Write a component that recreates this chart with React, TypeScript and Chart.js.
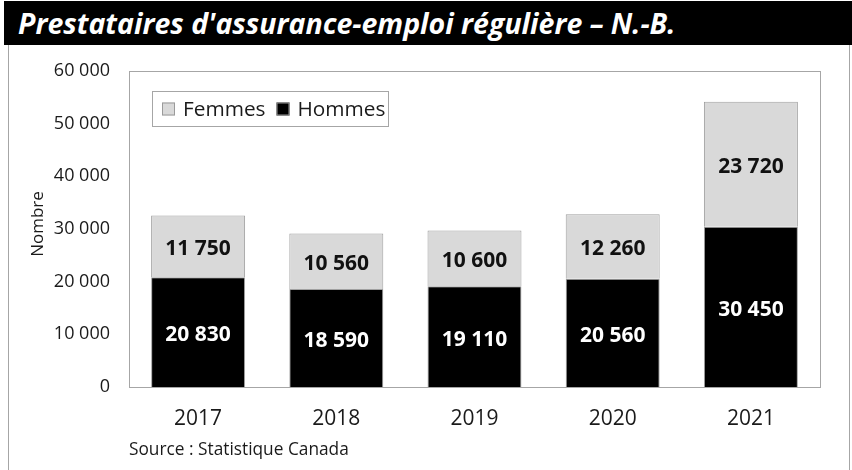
import React, { useEffect, useRef } from "react";
import { Chart, registerables } from "chart.js";

Chart.register(...registerables);

const years = ["2017", "2018", "2019", "2020", "2021"];
const hommes = [20830, 18590, 19110, 20560, 30450];
const femmes = [11750, 10560, 10600, 12260, 23720];
const yMax = 60000;
const yStep = 10000;
const yTitle = "Nombre";

const FONT = "'Open Sans', 'Noto Sans', sans-serif";
const fmt = (v: number) => String(v).replace(/\B(?=(\d{3})+(?!\d))/g, " ");

const plotBorder = {
  id: "plotBorder",
  beforeDatasetsDraw(chart: any) {
    const { ctx, chartArea: a } = chart;
    ctx.save();
    ctx.strokeStyle = "#a6a6a6";
    ctx.lineWidth = 1;
    ctx.strokeRect(Math.round(a.left) + 0.5, Math.round(a.top) + 0.5, Math.round(a.right - a.left), Math.round(a.bottom - a.top));
    ctx.restore();
  },
};

const yAxisTitle = {
  id: "yAxisTitle",
  afterDraw(chart: any) {
    const { ctx } = chart;
    ctx.save();
    ctx.translate(38, 224);
    ctx.rotate(-Math.PI / 2);
    ctx.font = `17px ${FONT}`;
    ctx.fillStyle = "#1a1a1a";
    ctx.textAlign = "center";
    ctx.textBaseline = "middle";
    ctx.fillText(yTitle, 0, 0);
    ctx.restore();
  },
};

const valueLabels = {
  id: "valueLabels",
  afterDatasetsDraw(chart: any) {
    const { ctx } = chart;
    ctx.save();
    ctx.font = `bold 21px ${FONT}`;
    ctx.textAlign = "center";
    ctx.textBaseline = "middle";
    chart.data.datasets.forEach((ds: any, di: number) => {
      const meta = chart.getDatasetMeta(di);
      meta.data.forEach((el: any, i: number) => {
        const v = ds.data[i];
        const cy = (el.y + el.base) / 2 + 3;
        ctx.fillStyle = ds.labelColor;
        ctx.fillText(fmt(v), el.x, cy);
      });
    });
    ctx.restore();
  },
};

const customLegend = {
  id: "customLegend",
  afterDraw(chart: any) {
    const { ctx } = chart;
    const left = 152, top = 91, w = 236, h = 35;
    ctx.save();
    ctx.fillStyle = "#ffffff";
    ctx.fillRect(left, top, w, h);
    ctx.strokeStyle = "#a6a6a6";
    ctx.lineWidth = 1;
    ctx.strokeRect(left + 0.5, top + 0.5, w, h);
    ctx.font = `20.8px ${FONT}`;
    ctx.textBaseline = "middle";
    const order = [1, 0];
    let x = left + 10;
    const cy = top + h / 2 + 0.5;
    order.forEach((di) => {
      const ds = chart.data.datasets[di];
      ctx.fillStyle = ds.backgroundColor;
      ctx.fillRect(x, cy - 6.5, 13, 13);
      ctx.strokeStyle = "#9a9a9a";
      ctx.strokeRect(x + 0.5, cy - 6, 12, 12);
      x += 21;
      ctx.fillStyle = "#1a1a1a";
      ctx.fillText(ds.label, x, cy + 1);
      x += ctx.measureText(ds.label).width + 11;
    });
    ctx.restore();
  },
};

function ChartCanvas() {
  const ref = useRef<HTMLCanvasElement | null>(null);
  useEffect(() => {
    if (!ref.current) return;
    const chart = new Chart(ref.current, {
      type: "bar",
      data: {
        labels: years,
        datasets: [
          {
            label: "Hommes",
            data: hommes,
            backgroundColor: "#000000",
            borderColor: "#a0a0a0",
            borderWidth: 1,
            labelColor: "#ffffff",
          } as any,
          {
            label: "Femmes",
            data: femmes,
            backgroundColor: "#d9d9d9",
            borderColor: "#a0a0a0",
            borderWidth: 1,
            labelColor: "#111111",
          } as any,
        ],
      },
      options: {
        responsive: false,
        animation: false,
        devicePixelRatio: 1,
        layout: { padding: { left: 20, top: 71, right: 32, bottom: 0 } },
        datasets: { bar: { categoryPercentage: 0.68, barPercentage: 1 } },
        plugins: {
          legend: { display: false },
          title: { display: false },
          tooltip: { enabled: false },
        },
        scales: {
          x: {
            stacked: true,
            grid: { display: false, drawTicks: false },
            border: { display: false },
            ticks: { color: "#1a1a1a", font: { family: FONT, size: 21 }, padding: 19 },
            afterFit: (s: any) => { s.height = 83; },
          },
          y: {
            stacked: true,
            min: 0,
            max: yMax,
            grid: { display: false, drawTicks: false },
            border: { display: false },
            ticks: {
              stepSize: yStep,
              color: "#1a1a1a",
              font: { family: FONT, size: 18 },
              padding: 19,
              callback: (v: any) => fmt(Number(v)),
            },
            afterFit: (s: any) => { s.width = 109; },
          },
        },
      } as any,
      plugins: [plotBorder, valueLabels, customLegend, yAxisTitle],
    });
    return () => chart.destroy();
  }, []);
  return <canvas ref={ref} width={852} height={470} style={{ position: "absolute", left: 0, top: 0, width: 852, height: 470 }} />;
}

export default function App() {
  return (
    <div style={{ position: "absolute", left: 0, top: 0, width: 852, height: 470, background: "#ffffff", overflow: "hidden" }}>
      <div
        style={{
          position: "absolute",
          left: 8,
          top: 45,
          width: 842,
          height: 430,
          boxSizing: "border-box",
          borderLeft: "1px solid #a6a6a6",
          borderRight: "1px solid #a6a6a6",
        }}
      />
      <ChartCanvas />
      <div
        style={{
          position: "absolute",
          left: 4,
          top: 1,
          width: 848,
          height: 44,
          background: "#000000",
          color: "#ffffff",
          fontFamily: FONT,
          fontWeight: 700,
          fontStyle: "italic",
          fontSize: 28.5,
          lineHeight: "44px",
          paddingLeft: 14,
          boxSizing: "border-box",
          whiteSpace: "nowrap",
        }}
      >
        Prestataires d'assurance-emploi régulière – N.-B.
      </div>
      <div
        style={{
          position: "absolute",
          left: 129,
          top: 439,
          fontFamily: FONT,
          fontSize: 17.3,
          lineHeight: "20px",
          color: "#1a1a1a",
          whiteSpace: "nowrap",
        }}
      >
        Source : Statistique Canada
      </div>
    </div>
  );
}
